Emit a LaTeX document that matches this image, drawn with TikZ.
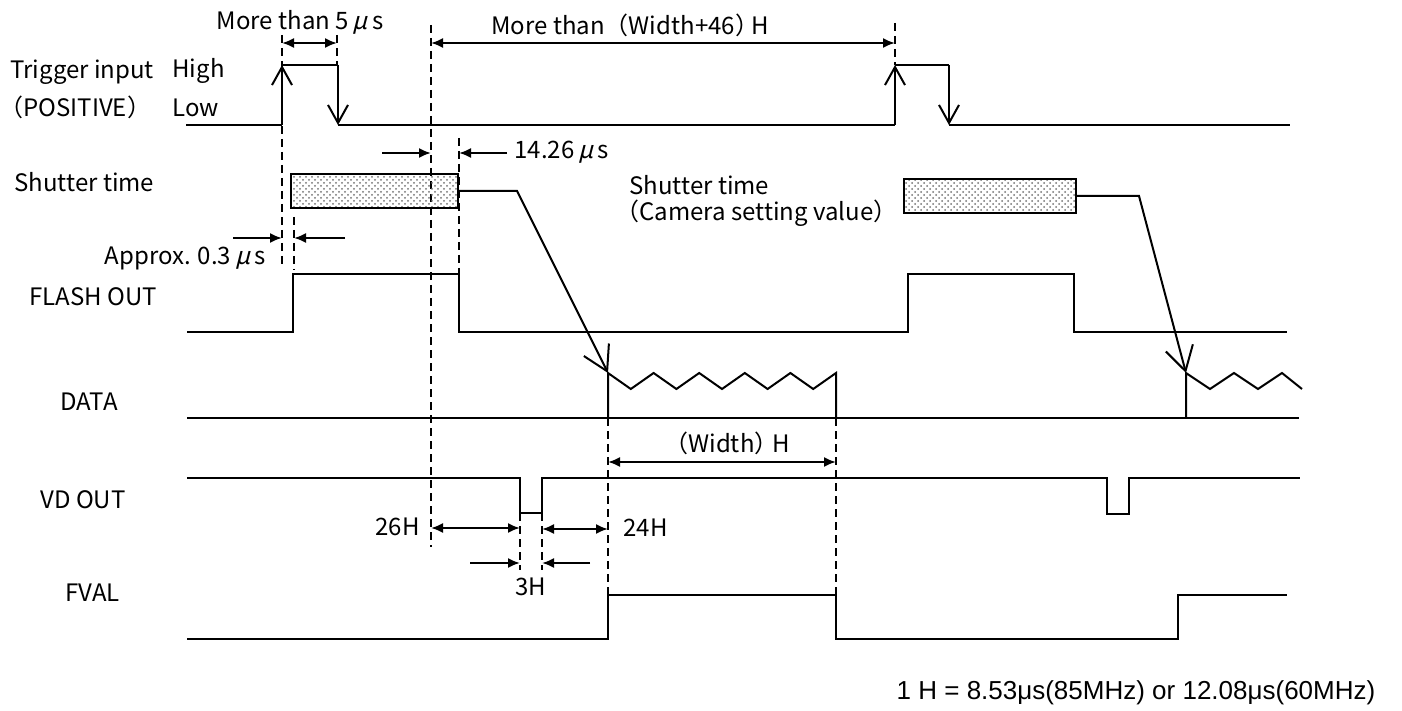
\documentclass[tikz,border=0pt]{standalone}
\usepackage{fontspec}
\setmainfont{Noto Sans CJK JP}
\newfontfamily\notefont{Liberation Sans}
\newfontfamily\slantmu[FakeSlant=0.25]{Noto Sans CJK JP}
\newcommand{\usec}{\,{\slantmu μ}\,s}
\usetikzlibrary{arrows.meta,patterns}

\tikzset{
	sig/.style={line width=1pt},
	guide/.style={line width=0.8pt, dash pattern=on 4pt off 2.5pt},
	dimboth/.style={line width=1pt, {Latex[length=6pt,width=5pt]}-{Latex[length=6pt,width=5pt]}},
	dimto/.style={line width=1pt, -{Latex[length=6pt,width=5pt]}},
	edgearrow/.style={line width=1pt, -{Straight Barb[length=9pt,width=10pt]}},
	readout/.style={line width=1pt, -{Straight Barb[length=12pt,width=14pt]}},
	shutterbox/.style={draw, line width=1pt, pattern=crosshatch dots, pattern color=black!55, minimum height=17pt},
}

\begin{document}
\begin{tikzpicture}[x=0.5pt, y=-0.5pt, font=\fontsize{12}{14}\selectfont, every node/.style={inner sep=0pt}]
	\useasboundingbox (0,0) rectangle (1402,711);
	% Signal names
	\node[anchor=west] (trig) at (10,72) {Trigger input};
	\node[anchor=west] (pos) at (-1,107) {（POSITIVE）};
	\node[anchor=west] (high) at (172,71) {High};
	\node[anchor=west] (low) at (172,108) {Low};
	\node[anchor=west] (shut) at (14,182) {Shutter time};
	\node[anchor=west] (flash) at (29,297) {FLASH OUT};
	\node[anchor=west] (data) at (60,402) {DATA};
	\node[anchor=west] (vd) at (40,500) {VD OUT};
	\node[anchor=west] (fval) at (65,593) {FVAL};
	
	% Trigger input pulses
	\draw[sig] (186,125) -- (282,125) (338,125) -- (895,125) (949,125) -- (1290,125);
	\foreach \r/\f in {282/338, 895/949} {
		\draw[edgearrow] (\r,125) -- (\r,65);
		\draw[sig] (\r,65) -- (\f,65);
		\draw[edgearrow] (\f,65) -- (\f,125);
	}
	
	% Dashed guides
	\draw[guide] (282,35) -- (282,267);
	\draw[guide] (337,35) -- (337,65);
	\draw[guide] (431,25) -- (431,547);
	\draw[guide] (895,23) -- (895,65);
	\draw[guide] (459,138) -- (459,274);
	\draw[guide] (294,217) -- (294,270);
	\foreach \x in {520, 542} {
		\draw[guide] (\x,513) -- (\x,570);
	}
	\foreach \x in {608, 836} {
		\draw[guide] (\x,418) -- (\x,595);
	}
	
	% Top distances
	\draw[dimboth] (282,43) -- (337,43);
	\node (more5) at (300,22) {More than 5\usec};
	\draw[dimboth] (431,43) -- (895,43);
	\node[anchor=west] (more46) at (491,25) {More than（Width+46）\kern-4pt H};
	
	% Shutter boxes
	\node[shutterbox, minimum width=83.5pt] (shut1) at (374.5,191) {};
	\node[shutterbox, minimum width=86pt] (shut2) at (990,196) {};
	\node[anchor=west] (shutcam) at (629,185) {Shutter time};
	\node[anchor=west] (camval) at (615,213) {（Camera setting value）};
	
	% 14.26 us
	\draw[dimto] (382,153) -- (431,153);
	\draw[dimto] (507,153) -- (459,153);
	\node[anchor=west] (t1426) at (514,152) {14.26\usec};
	
	% Approx. 0.3 us
	\draw[dimto] (233,238) -- (282,238);
	\draw[dimto] (345,238) -- (294,238);
	\node[anchor=east] (approx) at (266,258) {Approx. 0.3\usec};
	
	% FLASH OUT
	\draw[sig] (187,332) -- (293,332) -- (293,274) -- (459,274) -- (459,332) -- (908,332) -- (908,274) -- (1074,274) -- (1074,332) -- (1287,332);
	
	% DATA
	\coordinate (data1) at (608,373);
	\coordinate (data2) at (1186,373);
	\draw[sig] (187,418) -- (1299,418);
	\draw[sig] (608,418) -- (data1) \foreach \i in {1,...,10} { -- ({608+22.8*\i},{373+16*mod(\i,2)}) } -- (836,418);
	\draw[sig] (1186,418) -- (data2) \foreach \i in {1,...,4} { -- ({1186+24*\i},{373+16*mod(\i,2)}) } -- (1302,389);
	\draw[readout] (shut1.east) -- (517,191) -- (data1);
	\draw[readout] (shut2.east) -- (1139,196) -- (data2);
	
	% Width
	\draw[dimboth] (608,462) -- (836,462);
	\node[anchor=west] (width) at (664,443) {（Width）\kern-3pt H};
	
	% VD OUT
	\draw[sig] (187,478) -- (520,478) -- (520,513) -- (542,513) -- (542,478) -- (1107,478) -- (1107,514) -- (1129,514) -- (1129,478) -- (1300,478);
	\draw[dimboth] (431,528) -- (520,528);
	\node[anchor=west] (h26) at (375,527) {26H};
	\draw[dimboth] (542,529) -- (608,529);
	\node[anchor=west] (h24) at (623,528) {24H};
	\draw[dimto] (470,563) -- (520,563);
	\draw[dimto] (590,563) -- (542,563);
	\node (h3) at (531,587) {3H};
	
	% FVAL
	\draw[sig] (187,639) -- (608,639) -- (608,595) -- (836,595) -- (836,639) -- (1178,639) -- (1178,595) -- (1287,595);
	
	% Note
	\node[font=\notefont\fontsize{13}{15}\selectfont] (note) at (1136,693) {1 H = 8.53μs(85MHz) or 12.08μs(60MHz)};
\end{tikzpicture}
\end{document}
